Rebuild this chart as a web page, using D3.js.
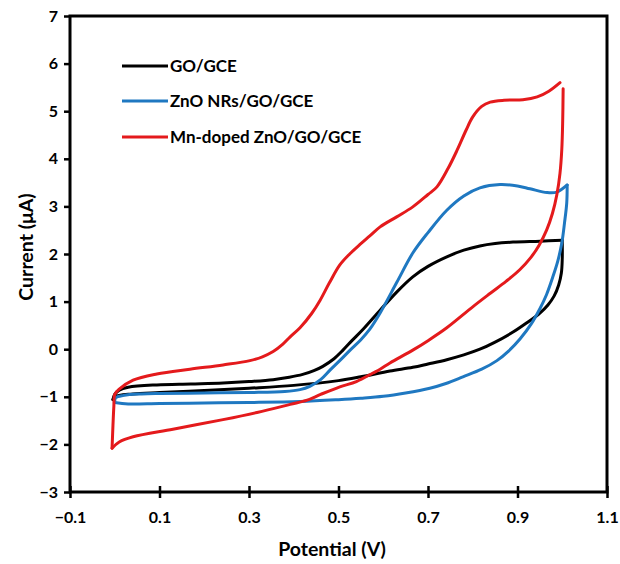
<!DOCTYPE html>
<html><head><meta charset="utf-8">
<script src="https://cdn.jsdelivr.net/npm/d3@7"></script>
<style>
html,body{margin:0;padding:0;background:#fff;}
svg text{font-family:Lato,"Open Sans","Liberation Sans",sans-serif;font-weight:bold;fill:#000;}
</style></head>
<body><svg id="c" width="620" height="564"></svg>
<script>
// ---- data ----
const xTicks = [-0.1, 0.1, 0.3, 0.5, 0.7, 0.9, 1.1];
const yTicks = [-3, -2, -1, 0, 1, 2, 3, 4, 5, 6, 7];
const seriesNames = ["GO/GCE", "ZnO NRs/GO/GCE", "Mn-doped ZnO/GO/GCE"];
const seriesColors = ["#000000", "#1f78c1", "#e41a1c"];

const goForward = [[-0.004,-1.06],[0.0,-0.95],[0.01,-0.86],[0.03,-0.8],[0.094,-0.75],[0.17,-0.73],[0.242,-0.71],[0.3,-0.68],[0.354,-0.64],[0.39,-0.59],[0.42,-0.53],[0.445,-0.45],[0.465,-0.36],[0.49,-0.2],[0.51,-0.02],[0.53,0.18],[0.555,0.42],[0.593,0.82],[0.63,1.2],[0.666,1.52],[0.7,1.74],[0.742,1.94],[0.78,2.08],[0.816,2.17],[0.85,2.22],[0.89,2.25],[0.95,2.27],[1.0,2.29]];
const goReverse = [[1.0,2.29],[1.0,1.9],[0.998,1.6],[0.992,1.35],[0.982,1.12],[0.968,0.93],[0.95,0.76],[0.92,0.55],[0.89,0.36],[0.85,0.15],[0.816,0.0],[0.78,-0.12],[0.742,-0.22],[0.7,-0.31],[0.666,-0.38],[0.615,-0.46],[0.55,-0.58],[0.5,-0.66],[0.4,-0.76],[0.3,-0.82],[0.2,-0.87],[0.1,-0.91],[0.04,-0.94],[0.0,-1.0],[-0.004,-1.06]];

const znoForward = [[0.0,-1.12],[0.002,-1.02],[0.02,-0.97],[0.06,-0.94],[0.1,-0.93],[0.2,-0.92],[0.3,-0.91],[0.38,-0.89],[0.414,-0.85],[0.436,-0.78],[0.46,-0.64],[0.481,-0.44],[0.505,-0.22],[0.526,-0.02],[0.55,0.2],[0.57,0.42],[0.593,0.76],[0.63,1.4],[0.666,2.02],[0.7,2.45],[0.742,2.92],[0.78,3.22],[0.816,3.39],[0.861,3.46],[0.9,3.43],[0.928,3.37],[0.966,3.29],[0.988,3.3],[1.011,3.45]];
const znoReverse = [[1.011,3.45],[1.01,3.07],[1.005,2.65],[0.999,2.23],[0.99,1.85],[0.979,1.52],[0.965,1.15],[0.95,0.85],[0.93,0.52],[0.906,0.22],[0.88,-0.04],[0.854,-0.24],[0.82,-0.42],[0.778,-0.58],[0.74,-0.72],[0.704,-0.82],[0.65,-0.92],[0.6,-0.99],[0.55,-1.03],[0.5,-1.06],[0.414,-1.1],[0.3,-1.12],[0.2,-1.13],[0.1,-1.14],[0.03,-1.15],[0.0,-1.12]];

const mnForward = [[-0.006,-2.08],[-0.004,-1.6],[-0.002,-1.2],[0.0,-0.95],[0.01,-0.84],[0.041,-0.65],[0.094,-0.52],[0.168,-0.42],[0.242,-0.33],[0.302,-0.24],[0.33,-0.16],[0.354,-0.05],[0.375,0.1],[0.392,0.26],[0.414,0.45],[0.44,0.75],[0.459,1.03],[0.48,1.4],[0.503,1.77],[0.525,2.0],[0.548,2.2],[0.57,2.38],[0.593,2.57],[0.63,2.78],[0.666,2.99],[0.7,3.25],[0.72,3.41],[0.745,3.8],[0.765,4.18],[0.785,4.6],[0.8,4.88],[0.82,5.1],[0.839,5.19],[0.87,5.23],[0.912,5.24],[0.944,5.3],[0.97,5.42],[0.995,5.6]];
const mnReverse = [[1.002,5.47],[1.001,4.8],[0.999,4.2],[0.995,3.7],[0.988,3.25],[0.978,2.85],[0.965,2.5],[0.948,2.18],[0.93,1.93],[0.905,1.67],[0.875,1.43],[0.84,1.18],[0.8,0.89],[0.742,0.45],[0.7,0.18],[0.666,-0.02],[0.615,-0.29],[0.593,-0.42],[0.577,-0.5],[0.54,-0.68],[0.503,-0.79],[0.46,-0.95],[0.43,-1.07],[0.392,-1.16],[0.318,-1.33],[0.242,-1.48],[0.13,-1.68],[0.041,-1.84],[0.01,-1.95],[-0.006,-2.08]];

const seriesBranches = [[goForward, goReverse],[znoForward, znoReverse],[mnForward, mnReverse]];

// ---- chart ----
const svg = d3.select("#c");
const x = d3.scaleLinear().domain([-0.1, 1.1]).range([70, 607]);
const y = d3.scaleLinear().domain([-3, 7]).range([492, 16]);

const line = d3.line().x(d => x(d[0])).y(d => y(d[1])).curve(d3.curveCatmullRom.alpha(0.5));

const plot = svg.append("g");
seriesBranches.forEach((branches, i) => {
  branches.forEach(b => {
    plot.append("path").attr("d", line(b)).attr("fill", "none")
      .attr("stroke", seriesColors[i]).attr("stroke-width", 3)
      .attr("stroke-linejoin", "round").attr("stroke-linecap", "round");
  });
});

// frame
svg.append("rect").attr("x", x(-0.1)).attr("y", y(7))
  .attr("width", x(1.1) - x(-0.1)).attr("height", y(-3) - y(7))
  .attr("fill", "none").attr("stroke", "#000").attr("stroke-width", 3);

// axes with cross ticks
const xAxis = svg.append("g").attr("transform", `translate(0,${y(-3)})`)
  .call(d3.axisBottom(x).tickValues(xTicks).tickFormat(d3.format(".1f")).tickSizeInner(6).tickSizeOuter(0).tickPadding(14));
xAxis.select(".domain").remove();
xAxis.selectAll(".tick line").attr("y1", -6).attr("stroke-width", 2.5);
xAxis.selectAll("text").style("font-size", "16px");

const yAxis = svg.append("g").attr("transform", `translate(${x(-0.1)},0)`)
  .call(d3.axisLeft(y).tickValues(yTicks).tickFormat(d3.format("d")).tickSizeInner(6).tickSizeOuter(0).tickPadding(6));
yAxis.select(".domain").remove();
yAxis.selectAll(".tick line").attr("x1", -6).attr("x2", 0).attr("stroke-width", 2.5);
yAxis.selectAll("text").style("font-size", "16px");

// titles
svg.append("text").attr("x", 332).attr("y", 556).attr("text-anchor", "middle")
  .style("font-size", "19.5px").text("Potential (V)");
svg.append("text").attr("transform", "translate(33,247) rotate(-90)").attr("text-anchor", "middle")
  .style("font-size", "19.5px").text("Current (μA)");

// legend
const legY = [66, 101, 137];
seriesNames.forEach((n, i) => {
  svg.append("line").attr("x1", 122).attr("x2", 168).attr("y1", legY[i]).attr("y2", legY[i])
    .attr("stroke", seriesColors[i]).attr("stroke-width", 3);
  svg.append("text").attr("x", 170).attr("y", legY[i] + 6).style("font-size", "17px").text(n);
});
</script></body></html>
